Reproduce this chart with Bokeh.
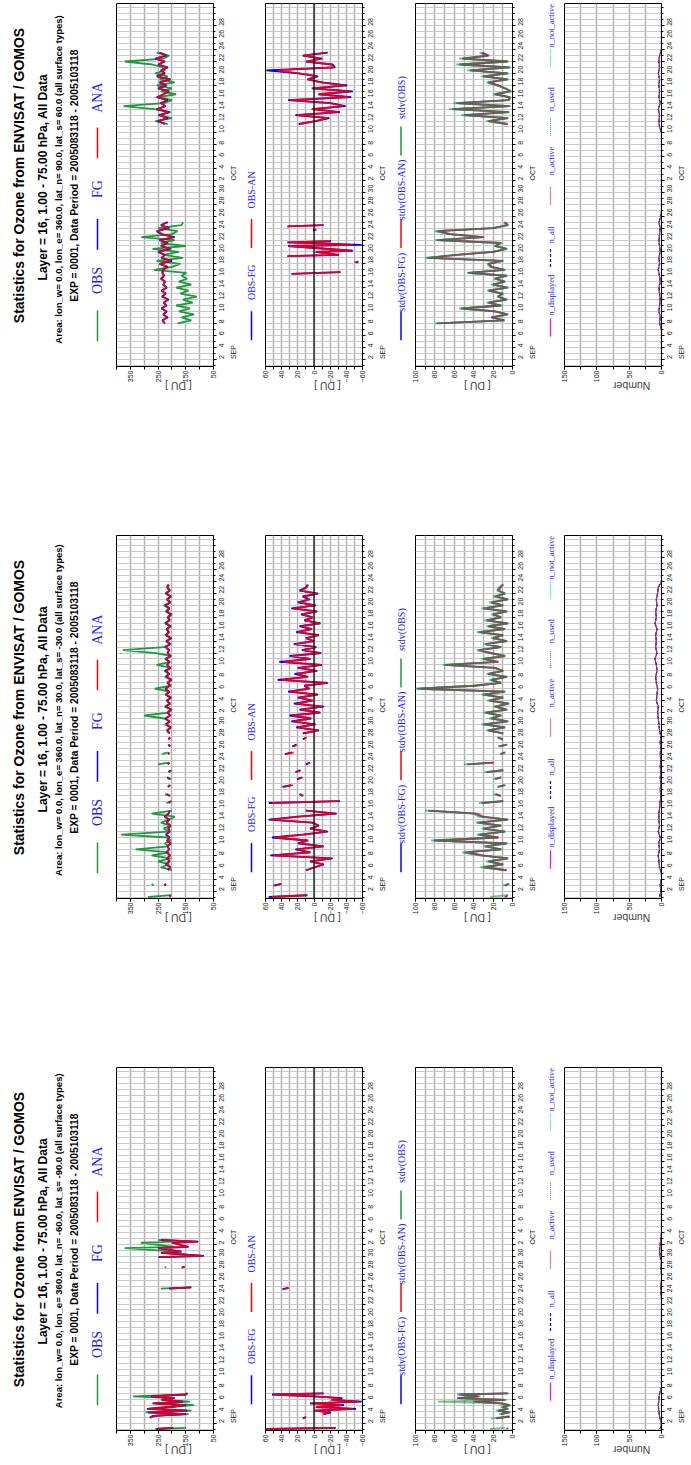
import math
import numpy as np
from bokeh.plotting import figure
from bokeh.models import Range1d, FixedTicker, LinearAxis, Span, Spacer
from bokeh.layouts import row, column
from bokeh.embed import file_html
from bokeh.resources import INLINE
from bokeh.core.properties import value

NaN = float("nan")

# ---------------------------------------------------------------- texts
TITLE = "Statistics for Ozone from ENVISAT / GOMOS"
LAYER = "Layer = 16, 1.00 - 75.00 hPa,  All Data"
EXPER = "EXP = 0001, Data Period = 2005083118 - 2005103118"
AREAS = [
    "Area: lon_w=  0.0, lon_e= 360.0, lat_n=  90.0, lat_s=  60.0 (all surface types)",
    "Area: lon_w=  0.0, lon_e= 360.0, lat_n=  30.0, lat_s= -30.0 (all surface types)",
    "Area: lon_w=  0.0, lon_e= 360.0, lat_n= -60.0, lat_s= -90.0 (all surface types)",
]
LEG1 = ["OBS", "FG", "ANA"]
LEG2 = ["OBS-FG", "OBS-AN"]
LEG3 = ["stdv(OBS-FG)", "stdv(OBS-AN)", "stdv(OBS)"]
LEG4 = ["n_displayed", "n_all", "n_active", "n_used", "n_not_active"]
AXIS_LABELS = ["[ DU ]", "[ DU ]", "[ DU ]", "Number"]

# ---------------------------------------------------------------- time axis (days since 1 Sep 00 UTC)
T_START, T_END = -0.25, 60.75
DAYS = [0, 1, 2, 3, 4, 5, 6, 7, 8, 9, 10, 11, 12, 13, 14, 15, 16, 17, 18, 19, 20,
        21, 22, 23, 24, 25, 26, 27, 28, 29, 30, 31, 32, 33, 34, 35, 36, 37, 38, 39, 40,
        41, 42, 43, 44, 45, 46, 47, 48, 49, 50, 51, 52, 53, 54, 55, 56, 57, 58, 59, 60]
DAY_TICKS = [1, 3, 5, 7, 9, 11, 13, 15, 17, 19, 21, 23, 25, 27, 29,
             31, 33, 35, 37, 39, 41, 43, 45, 47, 49, 51, 53, 55, 57]
DAY_LABELS = ["2", "4", "6", "8", "10", "12", "14", "16", "18", "20", "22", "24", "26", "28", "30",
              "2", "4", "6", "8", "10", "12", "14", "16", "18", "20", "22", "24", "26", "28"]
MONTH_TICKS = [1, 31]
MONTH_LABELS = ["SEP", "OCT"]

# ---------------------------------------------------------------- value axes
VAL_RANGES = [(400, 50), (60, -60), (100, 0), (150, 0)]
VAL_LABEL_TICKS = [[50, 150, 250, 350], [-60, -40, -20, 0, 20, 40, 60],
                   [0, 20, 40, 60, 80, 100], [0, 50, 100, 150]]
VAL_GRID_TICKS = [[50, 100, 150, 200, 250, 300, 350, 400],
                  [-60, -50, -40, -30, -20, -10, 0, 10, 20, 30, 40, 50, 60],
                  [0, 10, 20, 30, 40, 50, 60, 70, 80, 90, 100],
                  [0, 25, 50, 75, 100, 125, 150]]

# ================================================================ DATA
# ---------- page 1 : lat 60..90
N1_T = [7.0, 7.5, 8.0, 8.5, 9.0, 9.5, 10.0, 10.5, 11.0, 11.5, 12.0, 12.5, 13.0, 13.5, 14.0, 14.5,
        15.0, 15.5, 16.0, 16.5, 17.0, 17.5, 18.0, 18.5, 19.0, 19.5, 20.0, 20.5, 21.0, 21.5, 22.0,
        22.5, 23.0, 23.5, 24.0, NaN,
        40.5, 41.0, 41.5, 42.0, 42.5, 43.0, 43.5, 44.0, 44.5, 45.0, 45.5, 46.0, 46.5, 47.0, 47.5,
        48.0, 48.5, 49.0, 49.5, 50.0, 50.5, 51.0, 51.5, 52.0, 52.5]
N1_OBS = [180, 130, 165, 120, 175, 135, 185, 125, 160, 110, 170, 140, 185, 130, 175, 145, 165, 148,
          265, 200, 170, 255, 160, 230, 175, 270, 150, 240, 190, 310, 200, 180, 250, 165, 160, NaN,
          215, 260, 200, 250, 205, 265, 375, 230, 200, 250, 185, 240, 200, 255, 190, 245, 215, 260,
          225, 235, 270, 370, 230, 210, 255]
N1_FG = [225, 235, 215, 232, 218, 238, 220, 230, 212, 236, 222, 238, 218, 232, 224, 240, 228, 235,
         232, 215, 245, 200, 238, 225, 250, 205, 240, 215, 245, 190, 238, 255, 210, 240, 215, NaN,
         225, 250, 215, 245, 210, 255, 222, 240, 215, 255, 230, 210, 250, 220, 245, 205, 255, 225,
         240, 215, 250, 225, 260, 220, 245]
N1_AN = [228, 233, 218, 230, 220, 236, 222, 228, 215, 234, 224, 236, 220, 230, 226, 238, 230, 233,
         230, 218, 242, 205, 236, 228, 247, 208, 238, 218, 242, 195, 236, 252, 213, 238, 218, NaN,
         228, 247, 218, 242, 213, 252, 225, 238, 218, 252, 232, 213, 247, 223, 242, 208, 252, 228,
         238, 218, 247, 228, 256, 223, 242]
N2_T = [15.3, 15.6, NaN, 17.2, 17.4, NaN, 18.3, 18.5, 19.0, 19.2, 20.0, 20.2, 20.6, 20.8, NaN,
        22.6, 22.8, NaN, 23.3, 23.5, NaN,
        40.5, 41.0, 41.5, 42.0, 42.5, 43.0, 43.5, 44.0, 44.5, 45.0, 45.5, 46.0, 46.5, 47.0, 47.5,
        48.0, 48.5, 49.0, 49.5, 50.0, 50.5, 51.0, 51.5, 52.0, 52.5]
N2_OMF = [28, -33, NaN, -52, -55, NaN, 33, -31, -2, -48, 32, -59, 33, -21, NaN, 1, -3, NaN, 33, -12, NaN,
          19, -2, -19, 23, -32, 2, -39, -21, 32, -46, -6, -48, 2, -41, -10, 8, -5, 19, 59, -26,
          -23, 10, -10, 14, -17]
N2_OMA = [27, -32, NaN, -50, -53, NaN, 32, -30, -2, -46, 31, -48, 32, -20, NaN, 1, -2, NaN, 32, -11, NaN,
          17, -1, -17, 21, -30, 3, -36, -20, 30, -43, -5, -45, 3, -38, -8, 8, -4, 18, 45, -25,
          -21, 9, -8, 13, -15]
N3_SFG = [78, 8, 22, 5, 18, 53, 12, 25, 6, 15, 10, 25, 5, 20, 8, 18, 6, 46, 8, 22, 25, 10, 88, 58,
          20, 6, 18, 12, 78, 30, 65, 78, 20, 5, 8, NaN,
          5, 25, 5, 50, 4, 62, 3, 58, 4, 3, 18, 2, 8, 15, 25, 5, 30, 5, 44, 3, 55, 5, 52, 25, 32]
N3_SAN = [76, 9, 21, 6, 17, 50, 13, 24, 7, 14, 11, 24, 6, 19, 9, 17, 7, 44, 9, 21, 24, 11, 85, 56,
          19, 7, 17, 13, 75, 29, 63, 76, 19, 6, 9, NaN,
          5, 24, 5, 48, 4, 60, 3, 56, 4, 3, 17, 2, 8, 14, 24, 5, 29, 5, 42, 3, 53, 5, 50, 24, 31]
N3_SOB = [80, 10, 20, 4, 20, 55, 10, 27, 5, 16, 9, 26, 4, 22, 7, 19, 5, 47, 7, 23, 26, 9, 90, 60,
          22, 5, 19, 11, 80, 32, 67, 80, 22, 4, 7, NaN,
          6, 27, 4, 53, 3, 65, 2, 61, 3, 2, 20, 1, 7, 17, 27, 4, 32, 4, 47, 2, 58, 4, 55, 27, 34]
N4_N = [0, 0, 0, 0, 0, 0, 0, 3, 2, 4, 3, 2, 3, 4, 2, 3, 5, 3, 4, 2, 3, 4, 3, 2, 4, 1,
        0, 0, 0, 0, 0, 0, 0, 0, 0, 0, 0, 0, 0, 0, 3, 4, 3, 5, 2, 4, 3, 4, 3, 5, 3, 4, 3,
        0, 0, 0, 0, 0, 0, 0, 0]

# ---------- page 2 : lat -30..30
T_T = [0.0, 0.3, NaN, 1.9, 2.2, NaN,
       4.5, 5.0, 5.5, 6.0, 6.5, 7.0, 7.5, 8.0, 8.5, 9.0, 9.5, 10.0, 10.5, 11.0, 11.5, 12.0, 12.5,
       13.0, 13.5, 14.0, 14.5, NaN,
       15.8, 16.1, NaN, 17.0, 17.3, NaN, 18.5, 18.8, NaN, 19.8, 20.1, NaN, 21.0, 21.3, NaN,
       22.3, 22.6, NaN, 24.0, 24.3, NaN, 25.3, 25.6, NaN, 26.5, 26.8, NaN,
       27.5, 28.0, 28.5, 29.0, 29.5, 30.0, 30.5, 31.0, 31.5, 32.0, 32.5, 33.0, 33.5, 34.0, 34.5,
       35.0, 35.5, 36.0, 36.5, 37.0, 37.5, 38.0, 38.5, 39.0, 39.5, 40.0, 40.5, 41.0, 41.5, 42.0,
       42.5, 43.0, 43.5, 44.0, 44.5, 45.0, 45.5, 46.0, 46.5, 47.0, 47.5, 48.0, 48.5, 49.0, 49.5,
       50.0, 50.5, 51.0, 51.5, 52.0, 52.5]
T_OBS = [286, 202, NaN, 266, 273, NaN,
         200, 240, 210, 250, 205, 273, 210, 331, 212, 225, 205, 215, 383, 212, 230, 205, 240, 210,
         190, 273, 200, NaN,
         220, 200, NaN, 205, 225, NaN, 215, 210, NaN, 202, 218, NaN, 209, 200, NaN, 250, 212, NaN,
         235, 216, NaN, 208, 214, NaN, 211, 206, NaN,
         212, 214, 203, 225, 206, 228, 299, 212, 200, 226, 205, 220, 201, 224, 208, 262, 204, 218,
         200, 225, 209, 227, 203, 255, 206, 225, 202, 258, 377, 228, 204, 222, 201, 224, 210, 220,
         203, 226, 207, 212, 200, 223, 208, 229, 204, 219, 202, 224, 206, 218, 214]
T_FG = [208, 205, NaN, 228, 222, NaN,
        215, 205, 222, 208, 218, 206, 220, 210, 216, 204, 218, 209, 222, 207, 214, 205, 219, 210,
        226, 212, 208, NaN,
        212, 205, NaN, 210, 218, NaN, 214, 206, NaN, 208, 216, NaN, 212, 206, NaN, 215, 209, NaN,
        210, 214, NaN, 206, 212, NaN, 213, 207, NaN,
        208, 218, 205, 220, 210, 224, 206, 216, 204, 222, 209, 217, 205, 221, 210, 224, 207, 215,
        203, 220, 211, 223, 206, 218, 209, 222, 205, 216, 210, 224, 207, 219, 204, 221, 212, 218,
        206, 223, 209, 215, 204, 220, 210, 224, 207, 217, 205, 221, 209, 216, 212]
T_AN = [207, 206, NaN, 226, 221, NaN,
        214, 206, 220, 209, 216, 207, 218, 211, 215, 205, 216, 210, 220, 208, 213, 206, 217, 211,
        224, 213, 209, NaN,
        211, 206, NaN, 209, 217, NaN, 213, 207, NaN, 209, 215, NaN, 211, 207, NaN, 214, 210, NaN,
        209, 213, NaN, 207, 211, NaN, 212, 208, NaN,
        209, 217, 206, 219, 211, 222, 207, 215, 205, 221, 210, 216, 206, 220, 211, 222, 208, 214,
        205, 219, 210, 221, 207, 217, 210, 221, 206, 215, 211, 222, 208, 218, 205, 220, 211, 217,
        207, 221, 210, 214, 205, 219, 209, 222, 208, 216, 206, 220, 210, 215, 211]
T_OMF = [56, 8, NaN, 50, 41, NaN,
         10, -1, -12, 5, -23, 54, 5, 23, -12, 20, 8, 52, 14, -17, 5, -6, 2, 56, 20, -28, 10, NaN,
         56, -32, NaN, 14, 18, NaN, 39, 28, NaN, 21, 15, NaN, 23, 17, NaN, 10, 5, NaN,
         36, 27, NaN, 27, 22, NaN, 14, 10, NaN,
         14, -6, 22, -2, 28, 4, 30, -8, 18, -12, 25, 2, 20, -5, 32, 6, 12, -17, 45, 8,
         24, -4, 20, -10, 43, 5, 30, -9, 15, -3, 25, 0, 10, -6, 22, 3, 18, -8, 12, 2,
         16, -4, 28, -2, 20, 6, 14, -5, 18, 10, 8]
T_OMA = [52, 9, NaN, 48, 40, NaN,
         9, -1, -11, 4, -21, 50, 4, 21, -11, 18, 7, 48, 13, -15, 4, -5, 2, 52, 18, -26, 9, NaN,
         52, -30, NaN, 13, 17, NaN, 37, 26, NaN, 20, 14, NaN, 22, 16, NaN, 9, 5, NaN,
         34, 25, NaN, 25, 21, NaN, 13, 9, NaN,
         12, -5, 20, -1, 25, 3, 27, -7, 16, -10, 22, 1, 18, -4, 29, 5, 11, -15, 40, 7,
         21, -3, 18, -9, 38, 4, 27, -8, 13, -2, 22, 1, 9, -5, 20, 2, 16, -7, 11, 1,
         14, -3, 25, -1, 18, 5, 12, -4, 16, 9, 7]
T_SFG = [8, 5, NaN, 8, 4, NaN,
         6, 30, 10, 25, 5, 32, 49, 12, 28, 6, 81, 15, 35, 8, 30, 12, 36, 5, 32, 38, 87, NaN,
         32, 10, NaN, 12, 18, NaN, 15, 8, NaN, 18, 12, NaN, 27, 10, NaN, 47, 20, NaN,
         12, 8, NaN, 14, 6, NaN, 10, 15, NaN,
         10, 25, 8, 30, 5, 22, 12, 28, 6, 18, 4, 24, 10, 30, 8, 98, 40, 12, 22, 6,
         25, 10, 18, 70, 15, 30, 8, 22, 35, 12, 28, 6, 20, 10, 35, 8, 25, 5, 27, 12,
         20, 6, 30, 10, 22, 5, 18, 8, 15, 13, 10]
T_SAN = [7, 5, NaN, 8, 4, NaN,
         6, 28, 10, 24, 5, 30, 46, 12, 27, 6, 78, 14, 33, 8, 29, 12, 34, 5, 30, 36, 84, NaN,
         30, 10, NaN, 12, 17, NaN, 14, 8, NaN, 17, 12, NaN, 26, 10, NaN, 45, 19, NaN,
         12, 8, NaN, 13, 6, NaN, 10, 14, NaN,
         10, 24, 8, 28, 5, 21, 12, 27, 6, 17, 4, 23, 10, 28, 8, 95, 38, 12, 21, 6,
         24, 10, 17, 67, 14, 29, 8, 21, 33, 12, 27, 6, 19, 10, 33, 8, 24, 5, 26, 12,
         19, 6, 28, 10, 21, 5, 17, 8, 14, 12, 10]
T_SOB = [23, 5, NaN, 10, 3, NaN,
         8, 33, 9, 27, 4, 35, 52, 10, 30, 5, 84, 17, 37, 7, 32, 11, 38, 4, 35, 40, 90, NaN,
         35, 9, NaN, 13, 20, NaN, 16, 7, NaN, 20, 11, NaN, 29, 9, NaN, 50, 22, NaN,
         13, 7, NaN, 15, 5, NaN, 11, 16, NaN,
         9, 27, 7, 32, 4, 24, 11, 30, 5, 20, 3, 26, 9, 32, 7, 100, 42, 11, 24, 5,
         27, 9, 20, 72, 16, 32, 7, 24, 37, 11, 30, 5, 22, 9, 37, 7, 27, 4, 29, 11,
         22, 5, 32, 9, 24, 4, 20, 7, 16, 14, 9]
T4_N = [3, 1, 2, 0, 0, 3, 4, 5, 3, 4, 2, 5, 3, 4, 4, 3, 2, 1, 2, 1, 2, 1, 2, 1, 2, 1, 2, 1, 3, 4,
        5, 6, 5, 8, 7, 6, 8, 9, 7, 8, 10, 7, 9, 8, 9, 7, 10, 8, 9, 7, 8, 6, 5, 0, 0, 0, 0, 0, 0, 0, 0]

# ---------- page 3 : lat -90..-60
S1_T = [0.0, 0.2, NaN, 1.9, 2.2, 2.5, 2.8, 3.1, 3.4, 3.7, 4.0, 4.3, 4.6, 4.9, 5.2, 5.5, 5.8, 6.0, NaN,
        23.6, 23.8, NaN, 27.1, 27.3, NaN, 28.9, 29.1, 29.6, 29.8, 30.4, 30.6, 31.3, 31.5, 31.8]
S1_OBS = [260, 150, NaN, 275, 262, 140, 295, 130, 285, 215, 120, 260, 135, 240, 200, 340, 150, 143, NaN,
          240, 130, NaN, 225, 222, NaN, 250, 95, 225, 185, 370, 190, 312, 200, 250]
S1_FG = [255, 195, NaN, 280, 270, 150, 285, 145, 290, 205, 150, 270, 160, 235, 190, 275, 150, 145, NaN,
         210, 130, NaN, 165, 155, NaN, 247, 85, 240, 165, 250, 140, 200, 105, 240]
S1_AN = [252, 198, NaN, 278, 268, 152, 283, 148, 287, 207, 153, 268, 163, 233, 192, 272, 152, 147, NaN,
         208, 133, NaN, 163, 153, NaN, 245, 90, 238, 168, 248, 145, 198, 110, 238]
S2_T = [0.0, 0.2, NaN, 1.8, 2.0, NaN, 2.5, 2.8, 3.1, 3.4, 3.7, 4.0, 4.3, 4.6, 4.9, 5.2, 5.5, 5.8, 6.0,
        NaN, 23.5, 23.7]
S2_OMF = [59, -27, NaN, 14, 10, NaN, -12, -21, -1, -52, -3, -37, 5, -59, -23, -35, 0, 52, -12, NaN, 39, 32]
S2_OMA = [58, -26, NaN, 13, 10, NaN, -11, -19, 0, -48, -2, -34, 4, -55, -21, -32, 1, 50, -11, NaN, 37, 31]
S3_T = [0.0, 0.2, NaN, 1.8, 2.1, NaN, 2.5, 2.8, 3.1, 3.4, 3.7, 4.0, 4.3, 4.6, 4.9, 5.2, 5.5, 5.8, 6.0]
S3_SFG = [5, 6, NaN, 17, 3, NaN, 12, 3, 15, 5, 10, 3, 12, 40, 8, 57, 35, 55, 5]
S3_SAN = [5, 5, NaN, 16, 3, NaN, 11, 4, 14, 5, 9, 3, 11, 38, 7, 55, 33, 53, 5]
S3_SOB = [23, 8, NaN, 22, 5, NaN, 14, 2, 17, 4, 12, 2, 14, 77, 6, 52, 38, 57, 4]
S4_N = [2, 0, 3, 4, 5, 4, 3, 0, 0, 0, 0, 0, 0, 0, 0, 0, 0, 0, 0, 0, 0, 0, 0, 1, 1, 0, 0, 1, 0, 2,
        3, 2, 1, 0, 0, 0, 0, 0, 0, 0, 0, 0, 0, 0, 0, 0, 0, 0, 0, 0, 0, 0, 0, 0, 0, 0, 0, 0, 0, 0, 0]
N_NOT_ACTIVE = [0, 0, 0, 0, 0, 0, 0, 0, 0, 0, 0, 0, 0, 0, 0, 0, 0, 0, 0, 0, 0, 0, 0, 0, 0, 0, 0, 0, 0, 0,
                0, 0, 0, 0, 0, 0, 0, 0, 0, 0, 0, 0, 0, 0, 0, 0, 0, 0, 0, 0, 0, 0, 0, 0, 0, 0, 0, 0, 0, 0, 0]

# ================================================================ styling / layout constants
GREEN, BLUE, RED = "#1e9a3c", "#0000ff", "#ff0000"
MAGENTA, CYAN = "#ff00ff", "#00e0e0"
LEG_TEXT = "#2020ff"
SANS, SERIF = "Liberation Sans", "Liberation Serif"
ROW_H = 401          # height of one page block
GAP_H = 131          # blank space between pages
PANEL_W = 133        # 6 + 102 frame + 25
STRIP_W = [16, 17, 16]
LW = 1.8


def arr(v):
    return np.asarray(v, dtype=float)


def base_fig(width):
    p = figure(width=width, height=ROW_H, x_range=Range1d(0, width), y_range=Range1d(0, ROW_H),
               x_axis_type=None, y_axis_type=None, output_backend="svg", toolbar_location=None,
               title=None, min_border=0)
    p.outline_line_color = None
    p.background_fill_color = "white"
    p.border_fill_color = "white"
    return p


def vtext(p, x, y_top, txt, size, font=SANS, style="normal", color="black", align="center"):
    p.text(x=[x], y=[ROW_H - y_top], text=[txt], angle=math.pi / 2,
           text_font=value(font), text_font_size=size, text_font_style=style,
           text_color=color, text_align=align, text_baseline="middle")


def vseg(p, x, y0, y1, color, dash="solid", width=1.5):
    p.segment(x0=[x], y0=[ROW_H - y0], x1=[x], y1=[ROW_H - y1], line_color=color,
              line_width=width, line_dash=dash)


def title_fig(k):
    p = base_fig(110)
    yc = 190
    vtext(p, 18, yc, TITLE, "14px", style="bold")
    vtext(p, 42, yc, LAYER, "12px", style="bold")
    vtext(p, 58, yc, AREAS[k], "9.5px", style="bold")
    vtext(p, 74, yc, EXPER, "10.3px", style="bold")
    cols = [GREEN, BLUE, RED]
    for i, name in enumerate(LEG1):
        lc = 356 - 101 * i
        vseg(p, 97, lc + 17, lc - 17, cols[i])
        vtext(p, 97, lc - 50, name, "14px", font=SERIF, color=LEG_TEXT)
    return p


def strip_fig(j):
    w = STRIP_W[j]
    p = base_fig(w)
    xc = w / 2.0
    if j == 0:
        cols = [BLUE, RED]
        for i, name in enumerate(LEG2):
            lc = 356 - 102 * i
            vseg(p, xc, lc + 16, lc - 16, cols[i])
            vtext(p, xc, lc - 48, name, "10px", font=SERIF, color=LEG_TEXT)
    elif j == 1:
        cols = [BLUE, RED, GREEN]
        for i, name in enumerate(LEG3):
            lc = 356 - 102 * i
            vseg(p, xc, lc + 16, lc - 16, cols[i])
            vtext(p, xc, lc - 48, name, "10px", font=SERIF, color=LEG_TEXT)
    else:
        cols = [MAGENTA, BLUE, RED, GREEN, CYAN]
        dashes = ["solid", "3 2", "1 1", "1 1", "1 1"]
        line_c = [358, 281, 212, 136, 60]
        text_s = [345, 265, 190, 119, 49]
        for i, name in enumerate(LEG4):
            vseg(p, xc, line_c[i] + 10, line_c[i] - 10, cols[i], dashes[i], 1.2)
            vtext(p, xc, text_s[i], name, "8.5px", font=SERIF, color=LEG_TEXT, align="left")
    return p


def panel_fig(idx, lines):
    hi, lo = VAL_RANGES[idx]
    p = figure(width=PANEL_W, height=ROW_H, x_range=Range1d(hi, lo), y_range=Range1d(T_START, T_END),
               y_axis_location="right", output_backend="svg", toolbar_location=None, title=None,
               min_border_left=6, min_border_right=25, min_border_top=3, min_border_bottom=29)
    p.outline_line_color = "black"
    p.outline_line_width = 1
    p.background_fill_color = "white"
    p.border_fill_color = "white"

    # value axis (drawn at the bottom, rotated page)
    xa = p.xaxis[0]
    xa.ticker = FixedTicker(ticks=VAL_LABEL_TICKS[idx], minor_ticks=VAL_GRID_TICKS[idx])
    xa.major_label_orientation = math.pi / 2
    xa.major_label_text_font = SANS
    xa.major_label_text_font_size = "7px"
    xa.major_label_text_color = "#222222"
    xa.major_label_standoff = 1
    xa.major_tick_out, xa.major_tick_in = 3, 0
    xa.minor_tick_out, xa.minor_tick_in = 3, 0
    xa.axis_line_color = "black"
    xa.axis_label = AXIS_LABELS[idx]
    xa.axis_label_text_font = SANS
    xa.axis_label_text_font_size = "10.5px"
    xa.axis_label_text_font_style = "normal"
    xa.axis_label_standoff = 1
    xa.axis_label_orientation = math.pi

    # time axis (right)
    ya = p.yaxis[0]
    ya.ticker = FixedTicker(ticks=DAY_TICKS, minor_ticks=DAYS)
    ya.major_label_overrides = dict(zip(DAY_TICKS, DAY_LABELS))
    ya.major_label_orientation = math.pi / 2
    ya.major_label_text_font = SANS
    ya.major_label_text_font_size = "7px"
    ya.major_label_text_color = "#222222"
    ya.major_label_standoff = 5
    ya.major_tick_out, ya.major_tick_in = 3, 0
    ya.minor_tick_out, ya.minor_tick_in = 2, 0
    ya.axis_line_color = "black"

    ma = LinearAxis(ticker=FixedTicker(ticks=MONTH_TICKS),
                    major_label_overrides=dict(zip(MONTH_TICKS, MONTH_LABELS)),
                    major_tick_line_color=None, minor_tick_line_color=None, axis_line_color=None,
                    major_label_orientation=math.pi / 2, major_label_standoff=-2,
                    major_label_text_font=SANS, major_label_text_font_size="7px",
                    major_label_text_color="#222222")
    p.add_layout(ma, "right")

    p.xgrid.ticker = FixedTicker(ticks=VAL_GRID_TICKS[idx])
    p.xgrid.grid_line_color = "#b0b0b0"
    p.xgrid.grid_line_width = 1.5
    p.ygrid.ticker = FixedTicker(ticks=DAYS)
    p.ygrid.grid_line_color = "#c8c8c8"
    p.ygrid.grid_line_width = 1

    if idx == 1:
        p.add_layout(Span(location=0, dimension="height", line_color="black", line_width=1.2))

    for xs, ts, color, width, alpha, dash in lines:
        p.line(x=arr(xs), y=arr(ts), line_color=color, line_width=width, line_alpha=alpha,
               line_dash=dash)
    return p


def count_lines(n):
    return [(n, DAYS, MAGENTA, 1.2, 1.0, "solid"),
            (n, DAYS, BLUE, 1.2, 1.0, "3 2"),
            (n, DAYS, RED, 1.0, 1.0, "1 1"),
            (n, DAYS, GREEN, 1.0, 1.0, "1 1"),
            (N_NOT_ACTIVE, DAYS, CYAN, 1.0, 1.0, "1 1")]


PAGES = [
    [  # page 1
        [(N1_OBS, N1_T, GREEN, LW, 1.0, "solid"), (N1_FG, N1_T, BLUE, LW, 1.0, "solid"),
         (N1_AN, N1_T, RED, LW, 0.85, "solid")],
        [(N2_OMF, N2_T, BLUE, LW, 1.0, "solid"), (N2_OMA, N2_T, RED, LW, 0.85, "solid")],
        [(N3_SFG, N1_T, BLUE, LW, 0.7, "solid"), (N3_SAN, N1_T, RED, LW, 0.6, "solid"),
         (N3_SOB, N1_T, GREEN, LW, 0.6, "solid")],
        count_lines(N4_N),
    ],
    [  # page 2
        [(T_OBS, T_T, GREEN, LW, 1.0, "solid"), (T_FG, T_T, BLUE, LW, 1.0, "solid"),
         (T_AN, T_T, RED, LW, 0.85, "solid")],
        [(T_OMF, T_T, BLUE, LW, 1.0, "solid"), (T_OMA, T_T, RED, LW, 0.85, "solid")],
        [(T_SFG, T_T, BLUE, LW, 0.7, "solid"), (T_SAN, T_T, RED, LW, 0.6, "solid"),
         (T_SOB, T_T, GREEN, LW, 0.6, "solid")],
        count_lines(T4_N),
    ],
    [  # page 3
        [(S1_OBS, S1_T, GREEN, LW, 1.0, "solid"), (S1_FG, S1_T, BLUE, LW, 1.0, "solid"),
         (S1_AN, S1_T, RED, LW, 0.85, "solid")],
        [(S2_OMF, S2_T, BLUE, LW, 1.0, "solid"), (S2_OMA, S2_T, RED, LW, 0.85, "solid")],
        [(S3_SFG, S3_T, BLUE, LW, 0.7, "solid"), (S3_SAN, S3_T, RED, LW, 0.6, "solid"),
         (S3_SOB, S3_T, GREEN, LW, 0.6, "solid")],
        count_lines(S4_N),
    ],
]

blocks = []
for k in range(3):
    lines = PAGES[k]
    r = row(title_fig(k), panel_fig(0, lines[0]), strip_fig(0), panel_fig(1, lines[1]),
            strip_fig(1), panel_fig(2, lines[2]), strip_fig(2), panel_fig(3, lines[3]))
    blocks.append(r)
    if k < 2:
        blocks.append(Spacer(width=691, height=GAP_H))

layout = column(*blocks)
open("out.html", "w").write(file_html(layout, INLINE))
